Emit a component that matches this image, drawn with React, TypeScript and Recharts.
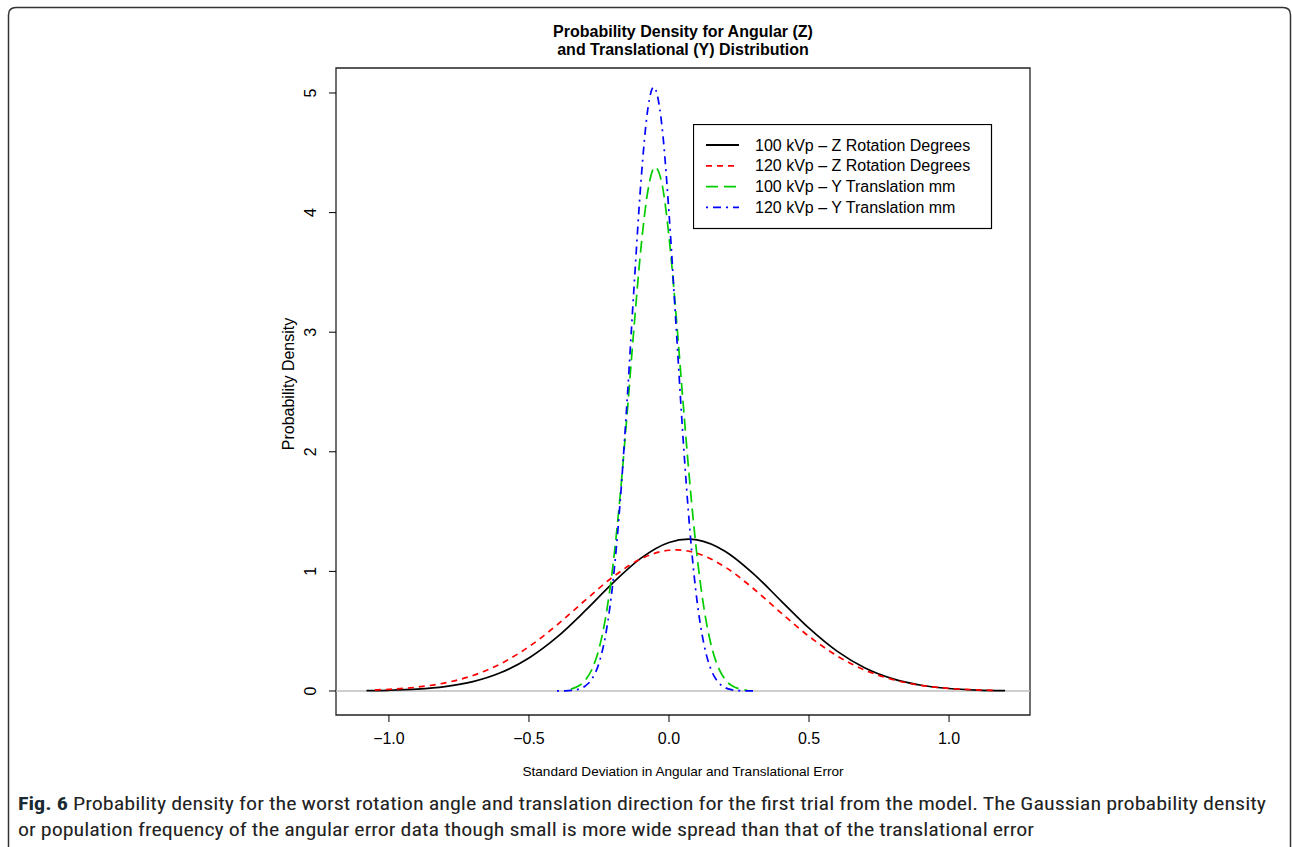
import { LineChart, Line, XAxis, YAxis, ReferenceLine, ReferenceArea, Legend } from "recharts";

// density curves (x in SD units, y = probability density)
const zRot100X = [-1.08, -1.0, -0.9, -0.8, -0.7, -0.6, -0.5, -0.4, -0.3, -0.2, -0.1, 0.0, 0.07, 0.1, 0.2, 0.3, 0.4, 0.5, 0.6, 0.7, 0.8, 0.9, 1.0, 1.1, 1.2];
const zRot100Y = [0.003, 0.006, 0.015, 0.036, 0.078, 0.154, 0.276, 0.45, 0.669, 0.904, 1.111, 1.242, 1.27, 1.264, 1.169, 0.984, 0.754, 0.525, 0.333, 0.192, 0.101, 0.048, 0.021, 0.008, 0.003];

const zRot120X = [-1.05, -1.0, -0.9, -0.8, -0.7, -0.6, -0.5, -0.4, -0.3, -0.2, -0.1, 0.0, 0.025, 0.1, 0.2, 0.3, 0.4, 0.5, 0.6, 0.7, 0.8, 0.9, 1.0, 1.1, 1.17];
const zRot120Y = [0.009, 0.014, 0.032, 0.068, 0.13, 0.229, 0.371, 0.552, 0.757, 0.954, 1.105, 1.177, 1.18, 1.152, 1.037, 0.859, 0.653, 0.457, 0.294, 0.174, 0.095, 0.047, 0.022, 0.009, 0.005];

const yTr100X = [-0.35, -0.325, -0.3, -0.275, -0.25, -0.225, -0.2, -0.175, -0.15, -0.125, -0.1, -0.075, -0.05, -0.025, 0, 0.025, 0.05, 0.075, 0.1, 0.125, 0.15, 0.175, 0.2, 0.225, 0.25, 0.28];
const yTr100Y = [0.016, 0.039, 0.087, 0.182, 0.353, 0.633, 1.052, 1.618, 2.305, 3.037, 3.707, 4.187, 4.379, 4.239, 3.799, 3.152, 2.421, 1.721, 1.133, 0.69, 0.389, 0.203, 0.098, 0.044, 0.018, 0.006];

const yTr120X = [-0.4, -0.375, -0.35, -0.325, -0.3, -0.275, -0.25, -0.225, -0.2, -0.175, -0.15, -0.125, -0.1, -0.075, -0.055, -0.025, 0, 0.025, 0.05, 0.075, 0.1, 0.125, 0.15, 0.175, 0.2, 0.225, 0.25, 0.275, 0.3];
const yTr120Y = [0.0003, 0.0013, 0.0045, 0.014, 0.04, 0.101, 0.233, 0.485, 0.915, 1.563, 2.413, 3.372, 4.263, 4.875, 5.05, 4.721, 3.998, 3.063, 2.123, 1.331, 0.755, 0.388, 0.18, 0.076, 0.029, 0.01, 0.003, 0.001, 0.0002];

const xTicks = [-1, -0.5, 0, 0.5, 1];
const yTicks = [0, 1, 2, 3, 4, 5];

const seriesNames = [
  "100 kVp \u2013 Z Rotation Degrees",
  "120 kVp \u2013 Z Rotation Degrees",
  "100 kVp \u2013 Y Translation mm",
  "120 kVp \u2013 Y Translation mm",
];

const toPoints = (xs: number[], ys: number[]) => xs.map((x, i) => ({ x, y: ys[i] }));

const SERIES = [
  { name: seriesNames[0], data: toPoints(zRot100X, zRot100Y), color: "#000000", dash: undefined },
  { name: seriesNames[1], data: toPoints(zRot120X, zRot120Y), color: "#ff0000", dash: "6 5" },
  { name: seriesNames[2], data: toPoints(yTr100X, yTr100Y), color: "#00cd00", dash: "12 6" },
  { name: seriesNames[3], data: toPoints(yTr120X, yTr120Y), color: "#0000ff", dash: "2 5 8 5" },
];

const FONT = "'Liberation Sans', Arial, Helvetica, sans-serif";
const CAPTION_FONT = "'Liberation Sans Narrow', 'Roboto Condensed', Roboto, sans-serif";
const W = 1292;
const H = 847;

const fmt = (v: number) => (v < 0 ? "\u2212" + Math.abs(v).toFixed(1) : v.toFixed(1));

function XTick(props: any) {
  const { x, payload } = props;
  return (
    <text x={x} y={744} textAnchor="middle" fontFamily={FONT} fontSize={16} fill="#000">
      {fmt(payload.value)}
    </text>
  );
}

function YTick(props: any) {
  const { y, payload } = props;
  return (
    <text x={316} y={y} transform={`rotate(-90, 316, ${y})`} textAnchor="middle" fontFamily={FONT} fontSize={16} fill="#000">
      {payload.value}
    </text>
  );
}

function LegendBox() {
  return (
    <svg width={300} height={106} style={{ display: "block" }}>
      <rect x={0.5} y={0.5} width={298} height={104} fill="#fff" stroke="#000" strokeWidth={1.2} />
      {SERIES.map((s, i) => {
        const cy = 21 + i * 20.8;
        return (
          <g key={s.name}>
            <line x1={13} x2={46} y1={cy} y2={cy} stroke={s.color} strokeWidth={1.8} strokeDasharray={s.dash} />
            <text x={62} y={cy + 5.5} fontFamily={FONT} fontSize={16} fill="#000">
              {s.name}
            </text>
          </g>
        );
      })}
    </svg>
  );
}

export default function App() {
  return (
    <div style={{ position: "absolute", left: 0, top: 0, width: W, height: H, overflow: "hidden", background: "#fff" }}>
      <svg width={W} height={H} style={{ position: "absolute", left: 0, top: 0 }}>
        <path d="M 8.5 900 L 8.5 15 Q 8.5 7.5 16 7.5 L 1283 7.5 Q 1290.5 7.5 1290.5 15 L 1290.5 900" fill="none" stroke="#333" strokeWidth={1.5} />
      </svg>
      <div style={{ position: "absolute", left: 0, top: 0 }}>
        <LineChart width={W} height={H} margin={{ top: 68, right: 262, bottom: 92, left: 276 }}>
          <XAxis
            type="number"
            dataKey="x"
            domain={[-1.189, 1.289]}
            ticks={xTicks}
            allowDataOverflow
            axisLine={false}
            tickLine={{ stroke: "#000" }}
            tickSize={7}
            tick={<XTick />}
            height={40}
          />
          <YAxis
            type="number"
            dataKey="y"
            domain={[-0.2007, 5.209]}
            ticks={yTicks}
            allowDataOverflow
            axisLine={false}
            tickLine={{ stroke: "#000" }}
            tickSize={7}
            tick={<YTick />}
            width={60}
          />
          <ReferenceLine y={0} stroke="#bebebe" strokeWidth={1.5} />
          <ReferenceArea x1={-1.189} x2={1.289} y1={-0.2007} y2={5.209} fill="none" stroke="#222" strokeWidth={1.3} />
          {SERIES.map((s) => (
            <Line
              key={s.name}
              data={s.data}
              dataKey="y"
              name={s.name}
              type="monotone"
              stroke={s.color}
              strokeWidth={1.7}
              strokeDasharray={s.dash}
              dot={false}
              activeDot={false}
              isAnimationActive={false}
            />
          ))}
          <Legend
            layout="vertical"
            align="center"
            verticalAlign="middle"
            content={() => <LegendBox />}
            wrapperStyle={{ left: 693, top: 124, width: 300, height: 106 }}
          />
        </LineChart>
      </div>
      <svg width={W} height={H} style={{ position: "absolute", left: 0, top: 0, pointerEvents: "none" }}>
        <text x={683} y={37} textAnchor="middle" fontFamily={FONT} fontSize={16} fontWeight="bold" fill="#000">
          Probability Density for Angular (Z)
        </text>
        <text x={683} y={55} textAnchor="middle" fontFamily={FONT} fontSize={16} fontWeight="bold" fill="#000">
          and Translational (Y) Distribution
        </text>
        <text x={294} y={384} transform="rotate(-90, 294, 384)" textAnchor="middle" fontFamily={FONT} fontSize={16} fill="#000">
          Probability Density
        </text>
        <text x={683} y={776} textAnchor="middle" fontFamily={FONT} fontSize={13.6} fill="#000">
          Standard Deviation in Angular and Translational Error
        </text>
        <text x={18} y={810} fontFamily={CAPTION_FONT} fontSize={18.5} fill="#222" textLength={1248} lengthAdjust="spacingAndGlyphs">
          <tspan fontWeight="bold" fill="#1a2a33">Fig. 6</tspan> Probability density for the worst rotation angle and translation direction for the first trial from the model. The Gaussian probability density
        </text>
        <text x={18} y={836} fontFamily={CAPTION_FONT} fontSize={18.5} fill="#222" textLength={1016} lengthAdjust="spacingAndGlyphs">
          or population frequency of the angular error data though small is more wide spread than that of the translational error
        </text>
      </svg>
    </div>
  );
}
